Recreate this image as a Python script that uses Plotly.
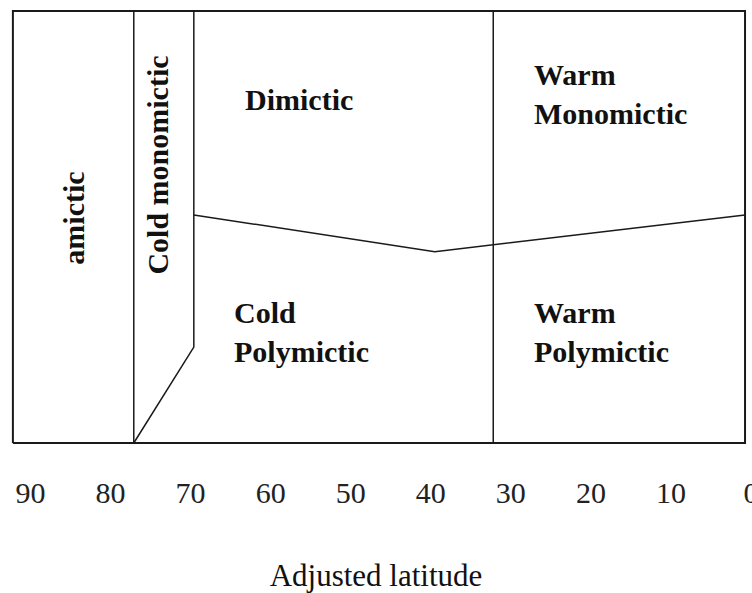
"""Lake mixing regimes by adjusted latitude (Lewis-style diagram)."""

import plotly.graph_objects as go

# axis ticks
LAT_TICKS = [90, 80, 70, 60, 50, 40, 30, 20, 10, 0]

# outer frame of the diagram (latitude, relative depth)
FRAME_LAT = [92.2, 0.75, 0.75, 92.2, 92.2]
FRAME_DEPTH = [0, 0, 100, 100, 0]

# amictic / cold monomictic boundary
AMICTIC_LAT = [77.1, 77.1]
AMICTIC_DEPTH = [0, 100]

# cold monomictic / dimictic + cold polymictic boundary
COLD_MONO_LAT = [69.6, 69.6, 77.1]
COLD_MONO_DEPTH = [100, 22.2, 0]

# dimictic / polymictic boundary
POLY_LAT = [69.6, 39.5, 0.75]
POLY_DEPTH = [52.8, 44.3, 52.8]

# cold / warm boundary
WARM_LAT = [32.2, 32.2]
WARM_DEPTH = [0, 100]

# region labels
LABELS = ["amictic", "Cold monomictic", "Dimictic", "Warm<br>Monomictic",
          "Cold<br>Polymictic", "Warm<br>Polymictic"]
LABEL_LAT = [84.6, 74.1, 56.5, 27.4, 64.8, 27.4]
LABEL_DEPTH = [52.1, 64.4, 79.6, 80.8, 25.8, 25.8]
LABEL_ANGLE = [-90, -90, 0, 0, 0, 0]
LABEL_ANCHOR = ["center", "center", "center", "left", "left", "left"]

SERIF = "Liberation Serif, Times New Roman, serif"

fig = go.Figure()
line_sets = [
    (FRAME_LAT, FRAME_DEPTH, 2),
    (AMICTIC_LAT, AMICTIC_DEPTH, 1.5),
    (COLD_MONO_LAT, COLD_MONO_DEPTH, 1.5),
    (POLY_LAT, POLY_DEPTH, 1.5),
    (WARM_LAT, WARM_DEPTH, 1.5),
]
for xs, ys, w in line_sets:
    fig.add_trace(
        go.Scatter(
            x=xs, y=ys, mode="lines",
            line=dict(color="#1a1a1a", width=w),
            hoverinfo="skip", showlegend=False,
        )
    )

for text, lat, depth, ang, anc in zip(LABELS, LABEL_LAT, LABEL_DEPTH,
                                      LABEL_ANGLE, LABEL_ANCHOR):
    fig.add_annotation(
        x=lat, y=depth, text=text, showarrow=False,
        textangle=ang, xanchor=anc, yanchor="middle", align="left",
        font=dict(family=SERIF, size=30, color="#111", weight="bold"),
    )

fig.update_layout(
    width=752, height=593,
    margin=dict(l=0, r=0, t=0, b=140),
    plot_bgcolor="white", paper_bgcolor="white",
    xaxis=dict(
        range=[93.81, -0.12],
        tickvals=LAT_TICKS,
        ticks="outside", ticklen=13, tickcolor="rgba(0,0,0,0)",
        ticklabeloverflow="allow",
        showgrid=False, zeroline=False, showline=False,
        tickfont=dict(family=SERIF, size=30, color="#222"),
        title=dict(text="Adjusted latitude", standoff=57,
                   font=dict(family=SERIF, size=31, color="#111")),
        automargin=False,
    ),
    yaxis=dict(
        range=[-2.31, 102.55],
        visible=False, showgrid=False, zeroline=False,
    ),
)

# drop the page's default body margin so the figure sits at the window corner
fig.write_html(
    "out.html",
    config={"displayModeBar": False},
    post_script="document.body.style.margin='0';",
)
